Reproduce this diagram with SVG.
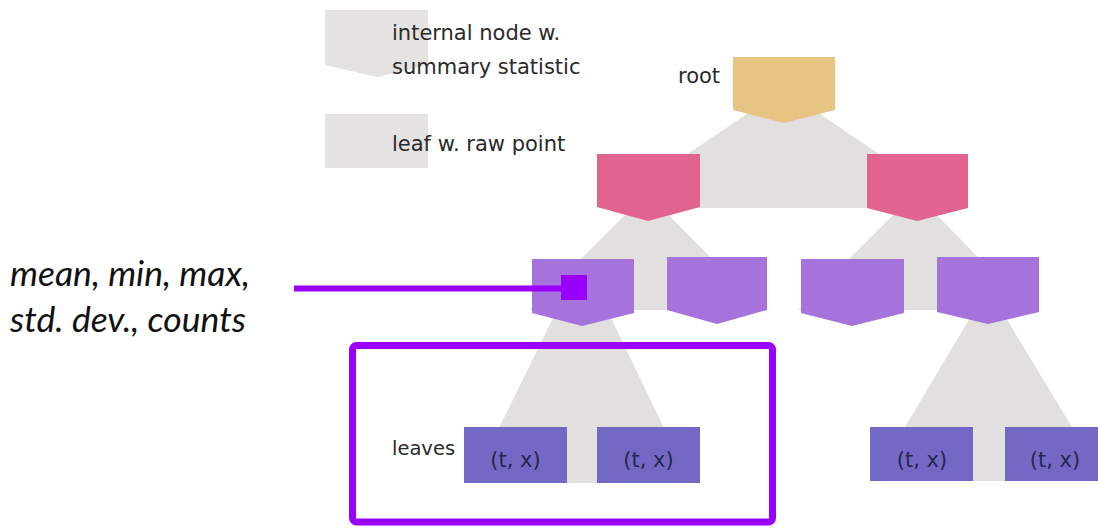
<svg xmlns="http://www.w3.org/2000/svg" width="1098" height="530" viewBox="0 0 1098 530">
<style>
.g{fill:#e2e0de}
.lg{fill:#e5e3e1}
.root{fill:#e8c482}
.pink{fill:#e0648f}
.purp{fill:#a672dc}
.leaf{fill:#7369c4}
.lbl{font-family:"DejaVu Sans",sans-serif;font-size:21px;fill:#2a2a2a}
.lt{font-family:"DejaVu Sans",sans-serif;font-size:21px;fill:#25254f;text-anchor:middle}
.it{font-family:Lato,"Liberation Sans",sans-serif;font-style:italic;font-size:35.5px;fill:#111}
.hl{stroke:#9900ff;fill:none}
</style>
<rect width="1098" height="530" fill="#fff"/>
<g id="connectors">
  <polygon class="g" points="750,112 817,112 959,208 607,208"/>
  <polygon class="g" points="640,200 654,200 762,310 530,310"/>
  <polygon class="g" points="908,200 922,200 1030,310 798,310"/>
  <polygon class="g" points="553,318 611,318 664,428 664,483 499,483 499,428"/>
  <polygon class="g" points="970,318 1006,318 1072,427 1072,481 905,481 905,427"/>
</g>
<g id="legend">
  <polygon class="lg" points="325,10 428,10 428,65 377,77 325,65"/>
  <rect class="lg" x="325" y="114" width="103" height="54"/>
  <text class="lbl" x="392" y="40">internal node w.</text>
  <text class="lbl" x="392" y="74">summary statistic</text>
  <text class="lbl" x="392" y="151">leaf w. raw point</text>
</g>
<g id="root">
  <polygon class="root" points="733,57 835,57 835,110 784,123 733,110"/>
  <text class="lbl" x="678" y="83">root</text>
</g>
<g id="n-l">
  <polygon class="pink" points="597,154 700,154 700,207 648,221 597,207"/>
</g>
<g id="n-r">
  <polygon class="pink" points="867,154 968,154 968,208 917,221 867,208"/>
</g>
<g id="n-ll">
  <polygon class="purp" points="532,259 634,259 634,313 582,326 532,313"/>
</g>
<g id="n-lr">
  <polygon class="purp" points="667,257 767,257 767,310 717,324 667,310"/>
</g>
<g id="n-rl">
  <polygon class="purp" points="801,259 904,259 904,313 852,326 801,313"/>
</g>
<g id="n-rr">
  <polygon class="purp" points="937,257 1039,257 1039,312 988,324 937,312"/>
</g>
<g id="leaf1">
  <rect class="leaf" x="464" y="427" width="103" height="56"/>
  <text class="lt" x="515.5" y="467">(t, x)</text>
</g>
<g id="leaf2">
  <rect class="leaf" x="597" y="427" width="103" height="56"/>
  <text class="lt" x="648.5" y="467">(t, x)</text>
</g>
<g id="leaf3">
  <rect class="leaf" x="870" y="427" width="103" height="54"/>
  <text class="lt" x="922" y="467">(t, x)</text>
</g>
<g id="leaf4">
  <rect class="leaf" x="1005" y="427" width="103" height="54"/>
  <text class="lt" x="1055" y="467">(t, x)</text>
</g>
<g id="leaves-label">
  <text class="lbl" x="392" y="455" style="font-size:19.5px">leaves</text>
</g>
<g id="annotation">
  <text class="it" x="10" y="286">mean, min, max,</text>
  <text class="it" x="10" y="332">std. dev., counts</text>
  <line class="hl" x1="294" y1="288.5" x2="574" y2="288.5" stroke-width="6"/>
  <rect x="561" y="275" width="26" height="25" fill="#9900ff"/>
  <rect class="hl" x="352.5" y="345.5" width="420" height="176.5" rx="4" stroke-width="7"/>
</g>
</svg>
